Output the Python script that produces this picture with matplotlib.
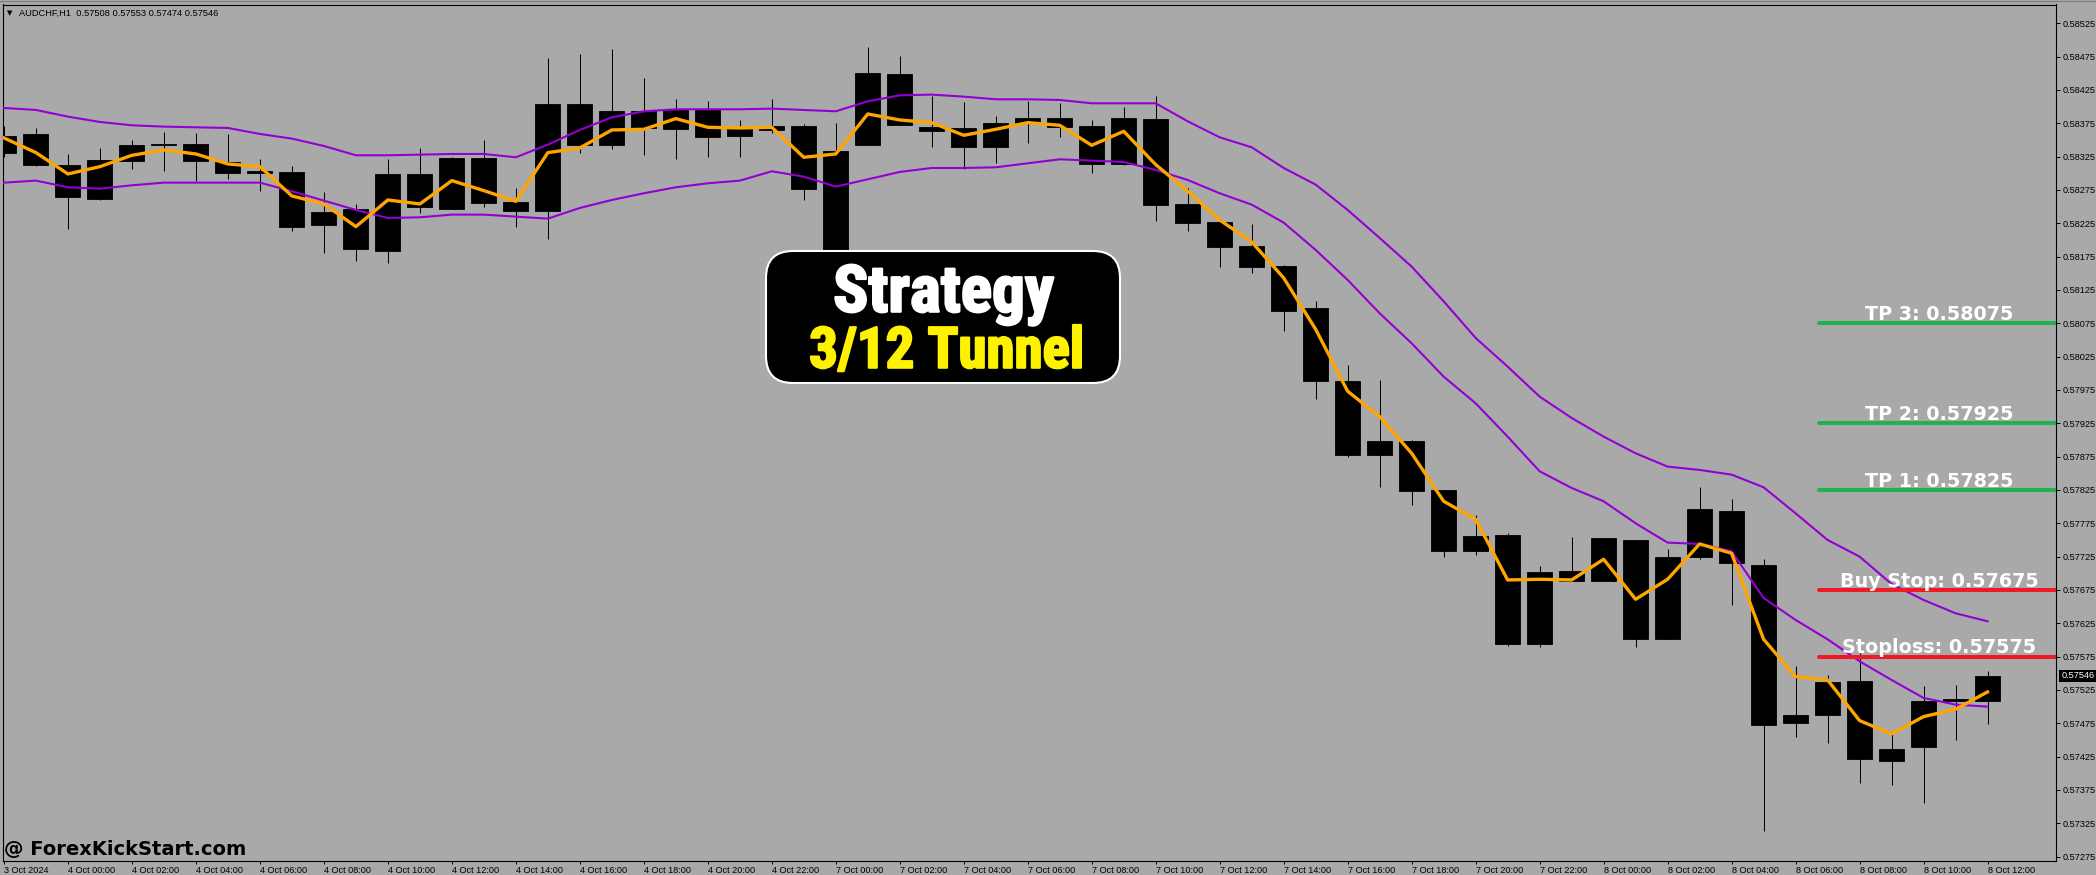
import matplotlib
matplotlib.use('Agg')
import matplotlib.pyplot as plt
import matplotlib.patheffects as pe
from matplotlib.patches import FancyBboxPatch
from matplotlib.lines import Line2D
from matplotlib.transforms import IdentityTransform
import numpy as np

W, H = 2096, 875
BG = '#a9a9a9'

# AUDCHF H1 candles, 3 Oct 22:00 -> 8 Oct 12:00
opens = [0.58331, 0.58359, 0.58313, 0.58262, 0.58319, 0.58343, 0.58344, 0.58317, 0.58300, 0.58302,
         0.58222, 0.58247, 0.58184, 0.58299, 0.58247, 0.58323, 0.58257, 0.58243, 0.58404, 0.58343,
         0.58394, 0.58367, 0.58395, 0.58356, 0.58365, 0.58371, 0.58185, 0.58343, 0.58449, 0.58369,
         0.58368, 0.58339, 0.58375, 0.58383, 0.58371, 0.58314, 0.58382, 0.58254, 0.58227, 0.58191,
         0.58161, 0.58098, 0.57989, 0.57877, 0.57899, 0.57825, 0.57733, 0.57758, 0.57594, 0.57704,
         0.57689, 0.57750, 0.57601, 0.57724, 0.57794, 0.57713, 0.57475, 0.57487, 0.57539, 0.57419,
         0.57439, 0.57509, 0.57508]
highs = [0.58371, 0.58368, 0.58329, 0.58338, 0.58350, 0.58362, 0.58360, 0.58359, 0.58322, 0.58311,
         0.58272, 0.58254, 0.58322, 0.58338, 0.58324, 0.58350, 0.58278, 0.58473, 0.58479, 0.58487,
         0.58443, 0.58412, 0.58409, 0.58380, 0.58412, 0.58374, 0.58376, 0.58490, 0.58476, 0.58416,
         0.58407, 0.58386, 0.58409, 0.58406, 0.58380, 0.58400, 0.58416, 0.58278, 0.58227, 0.58224,
         0.58163, 0.58109, 0.58013, 0.57990, 0.57900, 0.57825, 0.57788, 0.57760, 0.57711, 0.57755,
         0.57753, 0.57750, 0.57737, 0.57829, 0.57812, 0.57721, 0.57561, 0.57547, 0.57580, 0.57460,
         0.57531, 0.57533, 0.57553]
lows = [0.58325, 0.58311, 0.58217, 0.58260, 0.58307, 0.58304, 0.58289, 0.58292, 0.58274, 0.58213,
        0.58180, 0.58168, 0.58166, 0.58241, 0.58246, 0.58250, 0.58220, 0.58201, 0.58331, 0.58337,
        0.58328, 0.58322, 0.58325, 0.58324, 0.58361, 0.58260, 0.58180, 0.58342, 0.58372, 0.58339,
        0.58306, 0.58315, 0.58346, 0.58355, 0.58301, 0.58313, 0.58229, 0.58214, 0.58160, 0.58151,
        0.58064, 0.57962, 0.57874, 0.57829, 0.57802, 0.57724, 0.57728, 0.57591, 0.57590, 0.57689,
        0.57688, 0.57589, 0.57601, 0.57722, 0.57652, 0.57313, 0.57454, 0.57445, 0.57385, 0.57382,
        0.57355, 0.57450, 0.57474]
closes = [0.58356, 0.58312, 0.58264, 0.58320, 0.58343, 0.58344, 0.58319, 0.58301, 0.58303, 0.58220,
          0.58242, 0.58187, 0.58299, 0.58249, 0.58323, 0.58256, 0.58244, 0.58404, 0.58343, 0.58394,
          0.58368, 0.58395, 0.58355, 0.58369, 0.58371, 0.58277, 0.58334, 0.58451, 0.58373, 0.58363,
          0.58340, 0.58376, 0.58383, 0.58369, 0.58314, 0.58383, 0.58253, 0.58225, 0.58190, 0.58160,
          0.58094, 0.57989, 0.57877, 0.57899, 0.57823, 0.57733, 0.57756, 0.57594, 0.57702, 0.57689,
          0.57753, 0.57601, 0.57725, 0.57797, 0.57715, 0.57472, 0.57488, 0.57537, 0.57421, 0.57436,
          0.57508, 0.57511, 0.57546]

# fast line (3) and the 12 tunnel
ma3 = [0.58353, 0.58331, 0.58299, 0.58310, 0.58327, 0.58335, 0.58329, 0.58314, 0.58310, 0.58266,
       0.58254, 0.58220, 0.58260, 0.58254, 0.58289, 0.58274, 0.58258, 0.58331, 0.58338, 0.58365,
       0.58366, 0.58382, 0.58369, 0.58368, 0.58369, 0.58324, 0.58329, 0.58389, 0.58380, 0.58376,
       0.58357, 0.58366, 0.58376, 0.58372, 0.58342, 0.58363, 0.58313, 0.58273, 0.58230, 0.58197,
       0.58143, 0.58066, 0.57973, 0.57935, 0.57880, 0.57808, 0.57781, 0.57690, 0.57691, 0.57690,
       0.57721, 0.57661, 0.57691, 0.57744, 0.57730, 0.57601, 0.57545, 0.57540, 0.57479, 0.57459,
       0.57485, 0.57496, 0.57522]
tunnel_hi = [0.58398, 0.58395, 0.58385, 0.58377, 0.58372, 0.58370, 0.58369, 0.58368, 0.58359, 0.58352,
             0.58341, 0.58327, 0.58327, 0.58328, 0.58329, 0.58329, 0.58324, 0.58343, 0.58365, 0.58384,
             0.58393, 0.58396, 0.58396, 0.58396, 0.58397, 0.58395, 0.58393, 0.58408, 0.58417, 0.58418,
             0.58415, 0.58411, 0.58411, 0.58410, 0.58405, 0.58405, 0.58405, 0.58378, 0.58354, 0.58339,
             0.58308, 0.58283, 0.58245, 0.58203, 0.58160, 0.58108, 0.58053, 0.58010, 0.57965, 0.57933,
             0.57905, 0.57880, 0.57860, 0.57855, 0.57848, 0.57829, 0.57790, 0.57750, 0.57725, 0.57684,
             0.57660, 0.57640, 0.57628]
tunnel_lo = [0.58286, 0.58289, 0.58279, 0.58277, 0.58282, 0.58286, 0.58286, 0.58286, 0.58286, 0.58273,
             0.58259, 0.58245, 0.58233, 0.58234, 0.58238, 0.58238, 0.58235, 0.58232, 0.58248, 0.58260,
             0.58270, 0.58279, 0.58285, 0.58289, 0.58303, 0.58295, 0.58280, 0.58291, 0.58302, 0.58308,
             0.58308, 0.58309, 0.58315, 0.58321, 0.58319, 0.58317, 0.58305, 0.58290, 0.58270, 0.58253,
             0.58226, 0.58185, 0.58140, 0.58090, 0.58045, 0.57995, 0.57955, 0.57905, 0.57853, 0.57828,
             0.57808, 0.57775, 0.57746, 0.57744, 0.57733, 0.57663, 0.57630, 0.57601, 0.57568, 0.57540,
             0.57513, 0.57503, 0.57500]

# trade levels
level_names = ['TP 3', 'TP 2', 'TP 1', 'Buy Stop', 'Stoploss']
levels = [0.58075, 0.57925, 0.57825, 0.57675, 0.57575]
level_colors = ['#22b14c', '#22b14c', '#22b14c', '#ed1c24', '#ed1c24']

price_ticks = [0.57275 + 0.0005 * k for k in range(26)]
time_labels = (['3 Oct 2024']
               + ['4 Oct %02d:00' % h for h in range(0, 24, 2)]
               + ['7 Oct %02d:00' % h for h in range(0, 24, 2)]
               + ['8 Oct %02d:00' % h for h in range(0, 13, 2)])

plt.rcParams['font.family'] = ['Liberation Sans', 'DejaVu Sans']

fig = plt.figure(figsize=(W / 100, H / 100), dpi=100, facecolor=BG)
ax = fig.add_axes([3 / W, 14 / H, 2053 / W, 856.5 / H])
ax.set_facecolor(BG)

o = np.array(opens)
c = np.array(closes)
x = np.arange(len(c))

# candles
ax.vlines(x, lows, highs, color='black', lw=0.75, zorder=2)
ax.bar(x, np.abs(c - o), bottom=np.minimum(o, c), width=0.78,
       color='black', edgecolor='black', linewidth=0.6, zorder=3)

# tunnel + fast line
ax.plot(x, tunnel_hi, color='#9400d3', lw=1.5, zorder=4)
ax.plot(x, tunnel_lo, color='#9400d3', lw=1.5, zorder=4)
ax.plot(x, ma3, color='#ffa500', lw=2.4, zorder=5)

# trade levels
for name, lv, col in zip(level_names, levels, level_colors):
    ax.plot([56.73, 65], [lv, lv], color=col, lw=2.9, solid_capstyle='round', zorder=6)
    ax.annotate('%s: %.5f' % (name, lv), xy=(60.5, lv), xytext=(0, 2.4),
                textcoords='offset points', ha='center', va='baseline',
                color='white', fontsize=13.8, fontweight='bold',
                family='DejaVu Sans', zorder=7)

ax.set_xlim(-0.03, 64.14)
ax.set_ylim(0.572684, 0.585532)

for s in ax.spines.values():
    s.set_color('black')
    s.set_linewidth(0.8)

ax.yaxis.tick_right()
ax.set_yticks(price_ticks)
ax.set_yticklabels(['%.5f' % p for p in price_ticks])
ax.tick_params(axis='y', direction='out', length=3, width=0.7, pad=1.5,
               labelsize=6.6, colors='black')

ax.set_xticks(x[::2])
ax.set_xticklabels(time_labels, ha='left')
ax.tick_params(axis='x', direction='out', length=2.5, width=0.7, pad=0.8,
               labelsize=6.6, colors='black')

# current price tag
ax.text(1.0025, c[-1], '%.5f' % c[-1], transform=ax.get_yaxis_transform(),
        ha='left', va='center', color='white', fontsize=6.6,
        bbox=dict(boxstyle='square,pad=0.2', fc='black', ec='none'), clip_on=False)

# header
fig.text(7 / W, 1 - 13.5 / H, '\u25bc', fontsize=5, ha='left', va='center', family='DejaVu Sans')
fig.text(19 / W, 1 - 13 / H,
         'AUDCHF,H1  %.5f %.5f %.5f %.5f' % (opens[-1], highs[-1], lows[-1], closes[-1]),
         fontsize=6.7, ha='left', va='center')
fig.add_artist(Line2D([0, 1], [1 - 1.2 / H] * 2, color='#7a7a7a', lw=0.8))

# strategy box
box = FancyBboxPatch((766, H - 383), 354, 132, boxstyle='round,pad=0,rounding_size=27',
                     transform=IdentityTransform(), fc='black', ec='white', lw=1.5, zorder=10)
fig.add_artist(box)
narrow = ['Liberation Sans Narrow', 'Roboto Condensed', 'DejaVu Sans']
fig.text(943.5 / W, 1 - 311.7 / H, 'Strategy', ha='center', va='baseline', fontsize=47,
         color='white', fontweight='bold', family=narrow, zorder=11,
         path_effects=[pe.withStroke(linewidth=1.6, foreground='white')])
fig.text(947 / W, 1 - 367.7 / H, '3/12 Tunnel', ha='center', va='baseline', fontsize=41,
         color='#fff200', fontweight='bold', family=narrow, zorder=11,
         path_effects=[pe.withStroke(linewidth=1.6, foreground='#fff200')])

# watermark
fig.text(4 / W, 1 - 855.5 / H, '@ ForexKickStart.com', ha='left', va='baseline',
         fontsize=14, fontweight='bold', family='DejaVu Sans', zorder=11)

fig.savefig('out.png', dpi=100, facecolor=BG)
